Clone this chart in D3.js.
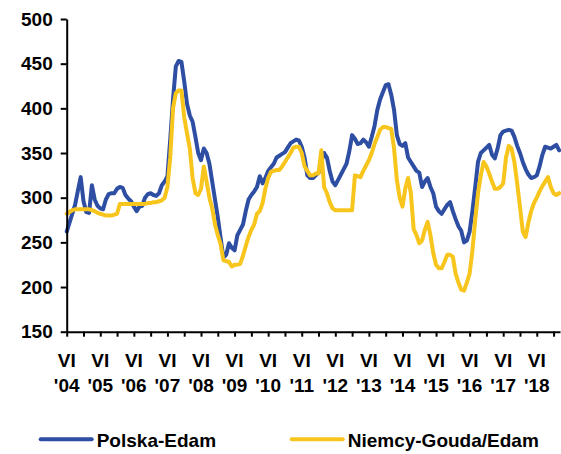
<!DOCTYPE html>
<html>
<head>
<meta charset="utf-8">
<script src="https://cdn.jsdelivr.net/npm/d3@7"></script>
<style>
  html, body { margin: 0; padding: 0; background: #fff; }
  svg { display: block; font-family: "Liberation Sans", Arial, sans-serif; font-weight: bold; }
</style>
</head>
<body>
<div id="chart"></div>
<script>
// monthly prices, first value = June 2004
const polskaEdam = [
    262, 272, 282, 292, 308, 323, 296,
    284, 283, 314, 298, 291, 288, 287, 298, 304, 305, 305, 310,
    312, 311, 303, 299, 296, 290, 285, 290, 291, 300, 304, 305,
    303, 302, 305, 314, 318, 324, 365, 410, 447, 453, 452, 430,
    405, 392, 385, 368, 350, 342, 355, 350, 338, 318, 298, 278,
    255, 233, 236, 249, 244, 241, 258, 264, 270, 285, 298, 303,
    307, 312, 324, 316, 322, 330, 334, 338, 345, 347, 349, 351,
    356, 361, 363, 365, 364, 357, 345, 325, 322, 322, 325, 328,
    340, 350, 345, 330, 318, 314, 320, 326, 332, 338, 352, 370,
    366, 360, 361, 365, 362, 357, 368, 380, 398, 410, 418, 426,
    427, 415, 398, 370, 360, 358, 361, 345, 340, 335, 330, 328,
    312, 318, 322, 312, 305, 290, 285, 282, 287, 292, 295, 285,
    276, 268, 263, 250, 252, 262, 285, 312, 340, 350, 353, 356,
    359, 348, 344, 355, 370, 374, 375, 376, 375, 368, 358, 350,
    340, 332, 326, 322, 323, 325, 335, 348, 357, 356, 355, 357,
    359, 353
];

const niemcyGoudaEdam = [
    282, 284, 286, 287, 287, 287, 287,
    287, 287, 286, 285, 283, 282, 281, 280, 280, 280, 281, 282,
    293, 293, 293, 293, 293, 293, 293, 293, 293, 293, 294, 294,
    295, 295, 296, 297, 300, 312, 345, 400, 417, 420, 420, 390,
    372, 355, 322, 305, 303, 310, 335, 318, 300, 288, 270, 258,
    248, 230, 229, 228, 223, 225, 225, 226, 235, 246, 256, 264,
    270, 282, 285, 294, 310, 322, 329, 330, 331, 331, 335, 340,
    345, 350, 356, 357, 357, 350, 335, 330, 325, 325, 327, 327,
    353, 312, 305, 295, 288, 286, 286, 286, 286, 286, 286, 286,
    325, 324, 323, 330, 336, 342, 350, 360, 368, 376, 379, 379,
    378, 377, 355, 320, 300, 290, 310, 322, 305, 265, 258, 249,
    252, 264, 273, 258, 238, 225, 221, 221, 228, 236, 236, 234,
    215, 205, 197, 196, 205, 215, 241, 275, 305, 325, 340, 335,
    327, 318, 310, 310, 312, 316, 345, 358, 355, 340, 316, 290,
    262, 256, 272, 285, 294, 300, 307, 313, 318, 323, 312, 305,
    303, 305
];

const yTicks = [150, 200, 250, 300, 350, 400, 450, 500];
const monthLabel = 'VI';
const yearLabels = ["'04", "'05", "'06", "'07", "'08", "'09", "'10", "'11",
                    "'12", "'13", "'14", "'15", "'16", "'17", "'18"];
const seriesNames = ['Polska-Edam', 'Niemcy-Gouda/Edam'];
const seriesColors = ['#2d4ea2', '#f8c51c'];

const width = 561, height = 454;

const svg = d3.select('#chart').append('svg')
    .attr('width', width)
    .attr('height', height);

const xScale = d3.scaleLinear()
    .domain([0, 176.3])
    .range([66.7, 560]);

const yScale = d3.scaleLinear()
    .domain([150, 500])
    .range([331.7, 19]);

const line = d3.line()
    .x((d, i) => xScale(i))
    .y(d => yScale(d));

// blue first, yellow drawn on top
[polskaEdam, niemcyGoudaEdam].forEach((s, k) => {
    svg.append('path')
        .datum(s)
        .attr('fill', 'none')
        .attr('stroke', seriesColors[k])
        .attr('stroke-width', 4)
        .attr('stroke-linejoin', 'round')
        .attr('stroke-linecap', 'round')
        .attr('d', line);
});

// y axis
const yAxis = svg.append('g')
    .attr('transform', `translate(${xScale.range()[0]},0)`)
    .call(d3.axisLeft(yScale).tickValues(yTicks).tickSize(6).tickSizeOuter(0).tickPadding(8));
yAxis.select('.domain').attr('stroke-width', 2);
yAxis.selectAll('.tick line').attr('stroke-width', 2);
yAxis.selectAll('.tick text')
    .attr('font-size', 19)
    .attr('font-weight', 'bold')
    .attr('font-family', '"Liberation Sans", Arial, sans-serif')
    .attr('fill', '#000');

// x axis: tick every half year, label every June
const xAxis = svg.append('g')
    .attr('transform', `translate(0,${yScale(150)})`)
    .call(d3.axisBottom(xScale).tickValues(d3.range(0, 177, 6)).tickSize(5).tickSizeOuter(0).tickFormat(''));
xAxis.select('.domain').attr('stroke-width', 2);
xAxis.selectAll('.tick line').attr('stroke-width', 2);

const xLab = svg.append('g')
    .selectAll('text')
    .data(yearLabels)
    .enter()
    .append('text')
    .attr('text-anchor', 'middle')
    .attr('font-size', 19)
    .attr('fill', '#000');
xLab.append('tspan')
    .attr('x', (d, i) => xScale(i * 12))
    .attr('y', 366.7)
    .text(monthLabel);
xLab.append('tspan')
    .attr('x', (d, i) => xScale(i * 12))
    .attr('y', 391.7)
    .text(d => d);

// legend
const legendX = [40.7, 291.7];
const legend = svg.append('g')
    .selectAll('g')
    .data(seriesNames)
    .enter()
    .append('g')
    .attr('transform', (d, i) => `translate(${legendX[i]},439.3)`);
legend.append('line')
    .attr('x1', 0)
    .attr('x2', 51)
    .attr('stroke', (d, i) => seriesColors[i])
    .attr('stroke-width', 4)
    .attr('stroke-linecap', 'round');
legend.append('text')
    .attr('x', 56)
    .attr('y', 8)
    .attr('font-size', 19)
    .attr('fill', '#000')
    .text(d => d);
</script>
</body>
</html>
